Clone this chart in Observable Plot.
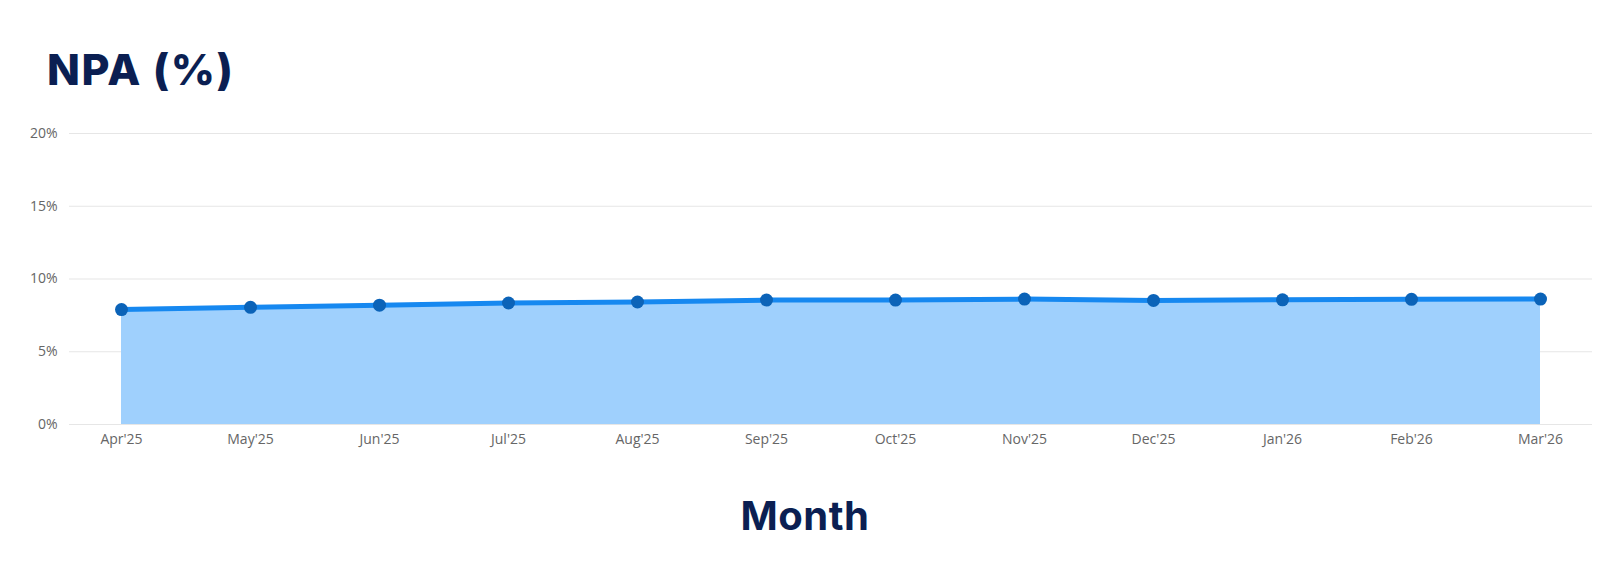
<!DOCTYPE html>
<html>
<head>
<meta charset="utf-8">
<script src="https://cdn.jsdelivr.net/npm/d3@7"></script>
<script src="https://cdn.jsdelivr.net/npm/@observablehq/plot@0.6"></script>
<style>
  html, body { margin: 0; padding: 0; background: #fff; }
  #wrap { position: relative; width: 1603px; height: 569px; overflow: hidden; }
  #title { position: absolute; left: 47px; top: 48px; font-family: Inter, "Noto Sans", sans-serif; font-weight: 800; font-size: 43px; color: #0b1f52; line-height: 1; letter-spacing: 1.5px; }
  #xlabel { position: absolute; left: 0; width: 1610px; text-align: center; top: 496px; font-family: Inter, "Noto Sans", sans-serif; font-weight: 700; font-size: 40px; color: #0b1f52; line-height: 1; letter-spacing: 0.5px; }
  #chart { position: absolute; left: 0; top: 0; }
</style>
</head>
<body>
<div id="wrap">
  <div id="chart"></div>
  <div id="title">NPA (%)</div>
  <div id="xlabel">Month</div>
</div>
<script>
const months = ["Apr'25","May'25","Jun'25","Jul'25","Aug'25","Sep'25","Oct'25","Nov'25","Dec'25","Jan'26","Feb'26","Mar'26"];
const npa = [7.9, 8.05, 8.2, 8.35, 8.42, 8.55, 8.55, 8.62, 8.53, 8.57, 8.6, 8.62];
const yTicks = [0, 5, 10, 15, 20];

const data = months.map((m, i) => ({month: m, value: npa[i]}));

const chart = Plot.plot({
  width: 1603,
  height: 569,
  marginTop: 133,
  marginBottom: 145,
  marginLeft: 69,
  marginRight: 11,
  style: {fontFamily: "'Open Sans', sans-serif", fontSize: "14px", color: "#666", background: "#fff"},
  x: {type: "point", domain: months, padding: 0.4, label: null, tickSize: 0, tickPadding: 10},
  y: {domain: [0, 20], ticks: yTicks, tickFormat: d => d + "%", label: null, tickSize: 0, tickPadding: 12},
  marks: [
    Plot.ruleY(yTicks, {stroke: "#e6e6e6", strokeWidth: 1.2}),
    Plot.areaY(data, {x: "month", y: "value", fill: "#9fd0fd", fillOpacity: 1}),
    Plot.lineY(data, {x: "month", y: "value", stroke: "#1688f0", strokeWidth: 5}),
    Plot.dot(data, {x: "month", y: "value", r: 6.5, fill: "#0b63b8", stroke: "none"})
  ]
});
document.getElementById("chart").appendChild(chart);
</script>
</body>
</html>
